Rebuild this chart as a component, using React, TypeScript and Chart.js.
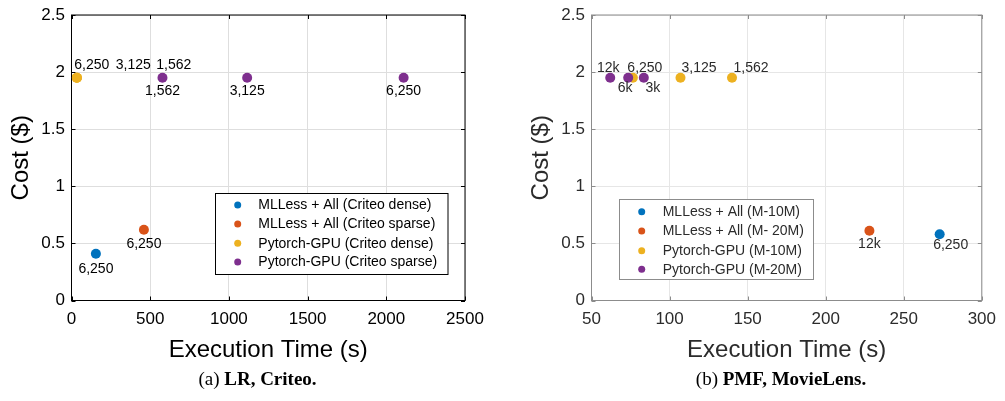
import { useEffect, useRef } from "react";
import { Chart, registerables } from "chart.js";

Chart.register(...registerables);

// ---------- Panel (a): LR, Criteo ----------
const lrMllessDenseTime = [155];
const lrMllessDenseCost = [0.41];
const lrMllessDenseBatch = ["6,250"];
const lrMllessSparseTime = [460];
const lrMllessSparseCost = [0.62];
const lrMllessSparseBatch = ["6,250"];
const lrGpuDenseTime = [34, 34, 34];
const lrGpuDenseCost = [1.95, 1.95, 1.95];
const lrGpuDenseBatch = ["6,250", "3,125", "1,562"];
const lrGpuSparseTime = [578, 1116, 2110];
const lrGpuSparseCost = [1.95, 1.95, 1.95];
const lrGpuSparseBatch = ["1,562", "3,125", "6,250"];
const lrTimeTicks = [0, 500, 1000, 1500, 2000, 2500];

// ---------- Panel (b): PMF, MovieLens ----------
const pmfMlless10Time = [273];
const pmfMlless10Cost = [0.58];
const pmfMlless10Batch = ["6,250"];
const pmfMlless20Time = [228];
const pmfMlless20Cost = [0.61];
const pmfMlless20Batch = ["12k"];
const pmfGpu10Time = [76.5, 107, 140];
const pmfGpu10Cost = [1.95, 1.95, 1.95];
const pmfGpu10Batch = ["6,250", "3,125", "1,562"];
const pmfGpu20Time = [62, 73.5, 83.5];
const pmfGpu20Cost = [1.95, 1.95, 1.95];
const pmfGpu20Batch = ["12k", "6k", "3k"];
const pmfTimeTicks = [50, 100, 150, 200, 250, 300];

const costTicks = [0, 0.5, 1, 1.5, 2, 2.5];

const lrLegend = [
  "MLLess + All (Criteo dense)",
  "MLLess + All (Criteo sparse)",
  "Pytorch-GPU (Criteo dense)",
  "Pytorch-GPU (Criteo sparse)",
];
const pmfLegend = [
  "MLLess + All (M-10M)",
  "MLLess + All (M- 20M)",
  "Pytorch-GPU (M-10M)",
  "Pytorch-GPU (M-20M)",
];

const COLORS = ["#0072BD", "#D95319", "#EDB120", "#7E2F8E"];
const FONT = "'Liberation Sans', Arial, Helvetica, sans-serif";

// label offsets in pixels (style only)
const lrLabelOffsets = [
  { dx: [0], dy: [15] },
  { dx: [0], dy: [14] },
  { dx: [15, 56.5, 97], dy: [-13, -13, -13] },
  { dx: [0, 0, 0], dy: [13, 13, 13] },
];
const pmfLabelOffsets = [
  { dx: [11], dy: [11] },
  { dx: [0], dy: [13] },
  { dx: [12, 18.5, 19], dy: [-10, -10, -10] },
  { dx: [-2, -3, 9], dy: [-10, 10, 10] },
];

const framePlugin = {
  id: "frame",
  beforeDatasetsDraw(chart: any, _a: any, opts: any) {
    const { ctx, chartArea } = chart;
    const { left, right, top, bottom } = chartArea;
    const xs = chart.scales.x;
    const ys = chart.scales.y;
    const tl = opts.tickLen;
    ctx.save();
    ctx.strokeStyle = opts.color;
    ctx.lineWidth = 1;
    ctx.beginPath();
    xs.ticks.forEach((t: any) => {
      const p = Math.round(xs.getPixelForValue(t.value)) + 0.5;
      ctx.moveTo(p, bottom);
      ctx.lineTo(p, bottom - tl);
      ctx.moveTo(p, top);
      ctx.lineTo(p, top + tl);
    });
    ys.ticks.forEach((t: any) => {
      const p = Math.round(ys.getPixelForValue(t.value)) + 0.5;
      ctx.moveTo(left, p);
      ctx.lineTo(left + tl, p);
      ctx.moveTo(right, p);
      ctx.lineTo(right - tl, p);
    });
    ctx.stroke();
    ctx.strokeRect(left, top, right - left, bottom - top);
    ctx.restore();
  },
};

const labelPlugin = {
  id: "pointText",
  afterDatasetsDraw(chart: any, _a: any, opts: any) {
    const { ctx } = chart;
    ctx.save();
    ctx.font = `${opts.size}px ${FONT}`;
    ctx.fillStyle = opts.color;
    ctx.textAlign = "center";
    ctx.textBaseline = "middle";
    chart.data.datasets.forEach((ds: any, i: number) => {
      const meta = chart.getDatasetMeta(i);
      meta.data.forEach((el: any, j: number) => {
        const off = opts.offsets[i];
        ctx.fillText(ds.pointText[j], el.x + off.dx[j], el.y + off.dy[j]);
      });
    });
    ctx.restore();
  },
};

const legendPlugin = {
  id: "boxLegend",
  afterDraw(chart: any, _a: any, opts: any) {
    const { ctx } = chart;
    const { x, y, w, h, rows, markerX, textX } = opts;
    ctx.save();
    ctx.fillStyle = "#ffffff";
    ctx.fillRect(x, y, w, h);
    ctx.strokeStyle = opts.border;
    ctx.lineWidth = 1;
    ctx.strokeRect(x, y, w, h);
    ctx.font = `${opts.size}px ${FONT}`;
    ctx.textAlign = "left";
    ctx.textBaseline = "middle";
    chart.data.datasets.forEach((ds: any, i: number) => {
      const ry = rows[i];
      ctx.fillStyle = ds.backgroundColor;
      ctx.beginPath();
      ctx.arc(markerX, ry, 3.5, 0, Math.PI * 2);
      ctx.fill();
      ctx.fillStyle = opts.color;
      ctx.fillText(ds.label, textX, ry + 0.5);
    });
    ctx.restore();
  },
};

type Series = { label: string; x: number[]; y: number[]; text: string[]; order: number };

function makeChart(
  canvas: HTMLCanvasElement,
  series: Series[],
  xTicks: number[],
  p: any
) {
  const datasets = series.map((s, i) => ({
    label: s.label,
    data: s.x.map((v, j) => ({ x: v, y: s.y[j] })),
    pointText: s.text,
    backgroundColor: COLORS[i],
    borderColor: COLORS[i],
    pointRadius: 5,
    pointHoverRadius: 5,
    pointBorderWidth: 0,
    showLine: false,
    order: s.order,
  }));
  return new Chart(canvas, {
    type: "scatter",
    data: { datasets } as any,
    plugins: [framePlugin, labelPlugin, legendPlugin],
    options: {
      animation: false,
      responsive: false,
      maintainAspectRatio: false,
      events: [],
      layout: { padding: p.padding },
      scales: {
        x: {
          type: "linear",
          min: xTicks[0],
          max: xTicks[xTicks.length - 1],
          afterBuildTicks: (s: any) => {
            s.ticks = xTicks.map((v) => ({ value: v }));
          },
          afterFit: (s: any) => {
            s.height = p.xAxisHeight;
          },
          grid: { color: p.grid, drawTicks: false, lineWidth: 1 },
          border: { display: false },
          ticks: {
            padding: 9,
            color: p.text,
            font: { family: FONT, size: 17 },
            maxRotation: 0,
            autoSkip: false,
            callback: (v: any) => String(v),
          },
          title: {
            display: true,
            text: "Execution Time (s)",
            color: p.text,
            font: { family: FONT, size: 24, lineHeight: 1.2 },
            padding: { top: 0, bottom: 5 },
          },
        },
        y: {
          type: "linear",
          min: costTicks[0],
          max: costTicks[costTicks.length - 1],
          afterBuildTicks: (s: any) => {
            s.ticks = costTicks.map((v) => ({ value: v }));
          },
          afterFit: (s: any) => {
            s.width = p.yAxisWidth;
          },
          grid: { color: p.grid, drawTicks: false, lineWidth: 1 },
          border: { display: false },
          ticks: {
            padding: 6.5,
            color: p.text,
            font: { family: FONT, size: 17, lineHeight: 1 },
            autoSkip: false,
            callback: (v: any) => String(v),
          },
          title: {
            display: true,
            text: "Cost ($)",
            color: p.text,
            font: { family: FONT, size: 24, lineHeight: 1.2 },
            padding: { top: p.yTitlePad, bottom: 0 },
          },
        },
      },
      plugins: {
        legend: { display: false },
        tooltip: { enabled: false },
        frame: { color: p.frame, tickLen: 4 },
        pointText: { color: p.text, size: 14, offsets: p.offsets },
        boxLegend: { ...p.legend, color: p.text, size: 14, border: p.frame },
      } as any,
    },
  });
}

function Panel({ which }: { which: "a" | "b" }) {
  const ref = useRef<HTMLCanvasElement>(null);
  useEffect(() => {
    if (!ref.current) return;
    let chart: Chart;
    if (which === "a") {
      const series: Series[] = [
        { label: lrLegend[0], x: lrMllessDenseTime, y: lrMllessDenseCost, text: lrMllessDenseBatch, order: 3 },
        { label: lrLegend[1], x: lrMllessSparseTime, y: lrMllessSparseCost, text: lrMllessSparseBatch, order: 2 },
        { label: lrLegend[2], x: lrGpuDenseTime, y: lrGpuDenseCost, text: lrGpuDenseBatch, order: 1 },
        { label: lrLegend[3], x: lrGpuSparseTime, y: lrGpuSparseCost, text: lrGpuSparseBatch, order: 0 },
      ];
      chart = makeChart(ref.current, series, lrTimeTicks, {
        padding: { left: 0, right: 40, top: 10.5, bottom: 0 },
        xAxisHeight: 69.5,
        yAxisWidth: 71.5,
        yTitlePad: 6.6,
        grid: "#dedede",
        text: "#000000",
        frame: "#000000",
        offsets: lrLabelOffsets,
        legend: { x: 215.5, y: 193.5, w: 232.5, h: 81, rows: [205, 224, 243.3, 262], markerX: 237.7, textX: 258.3 },
      });
    } else {
      const series: Series[] = [
        { label: pmfLegend[0], x: pmfMlless10Time, y: pmfMlless10Cost, text: pmfMlless10Batch, order: 3 },
        { label: pmfLegend[1], x: pmfMlless20Time, y: pmfMlless20Cost, text: pmfMlless20Batch, order: 2 },
        { label: pmfLegend[2], x: pmfGpu10Time, y: pmfGpu10Cost, text: pmfGpu10Batch, order: 1 },
        { label: pmfLegend[3], x: pmfGpu20Time, y: pmfGpu20Cost, text: pmfGpu20Batch, order: 0 },
      ];
      chart = makeChart(ref.current, series, pmfTimeTicks, {
        padding: { left: 0, right: 17.5, top: 10.5, bottom: 0 },
        xAxisHeight: 69.5,
        yAxisWidth: 86.5,
        yTitlePad: 22.3,
        grid: "#e6e6e6",
        text: "#2b2b2b",
        frame: "#8c8c8c",
        offsets: pmfLabelOffsets,
        legend: { x: 114.5, y: 199.5, w: 194, h: 80, rows: [211.7, 231, 250.7, 269.3], markerX: 136.7, textX: 157.7 },
      });
    }
    return () => chart.destroy();
  }, [which]);
  return (
    <canvas
      ref={ref}
      width={which === "a" ? 505 : 500}
      height={370}
      style={{
        position: "absolute",
        left: which === "a" ? 0 : 505,
        top: 0,
        width: which === "a" ? 505 : 500,
        height: 370,
      }}
    />
  );
}

const captionStyle: any = {
  position: "absolute",
  top: 368,
  transform: "translateX(-50%)",
  fontFamily: "'Liberation Serif', 'Times New Roman', serif",
  fontSize: 19,
  lineHeight: "22px",
  whiteSpace: "nowrap",
  color: "#000",
};

export default function App() {
  return (
    <div
      style={{
        position: "fixed",
        left: 0,
        top: 0,
        width: 1005,
        height: 401,
        background: "#ffffff",
        overflow: "hidden",
      }}
    >
      <Panel which="a" />
      <Panel which="b" />
      <div style={{ ...captionStyle, left: 257.5 }}>
        (a) <b>LR, Criteo.</b>
      </div>
      <div style={{ ...captionStyle, left: 781 }}>
        (b) <b>PMF, MovieLens.</b>
      </div>
    </div>
  );
}
